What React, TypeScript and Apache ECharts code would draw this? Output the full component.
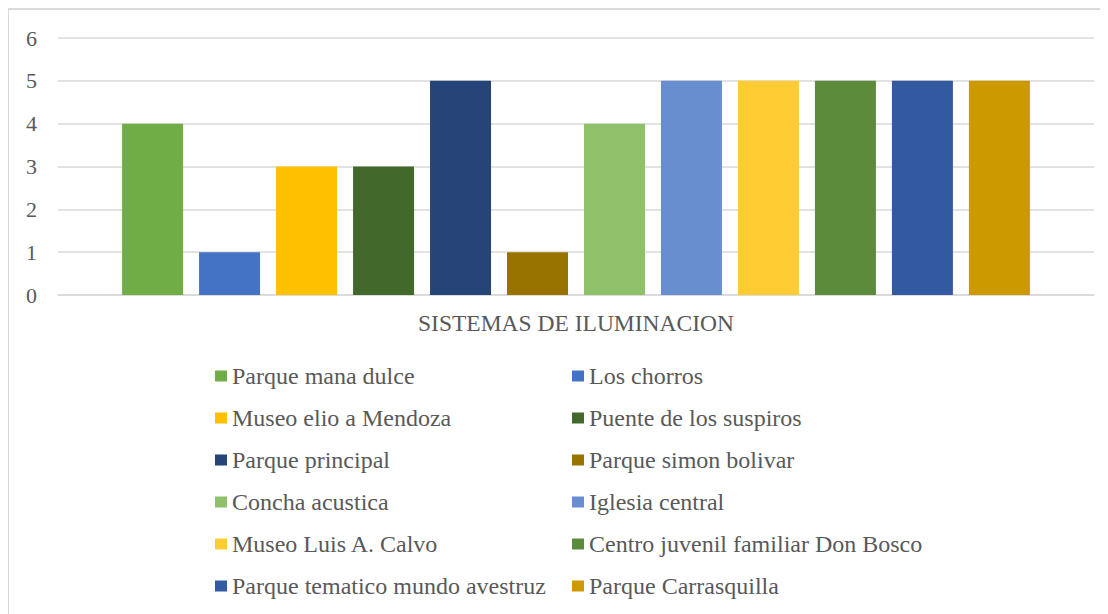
import React, { useEffect, useRef } from "react";
import * as echarts from "echarts";

const category = ["SISTEMAS DE ILUMINACION"];
const seriesNames = [
  "Parque mana dulce",
  "Los chorros",
  "Museo elio a Mendoza",
  "Puente de los suspiros",
  "Parque principal",
  "Parque simon bolivar",
  "Concha acustica",
  "Iglesia central",
  "Museo Luis A. Calvo",
  "Centro juvenil familiar Don Bosco",
  "Parque tematico mundo avestruz",
  "Parque Carrasquilla",
];
const seriesValues = [4, 1, 3, 3, 5, 1, 4, 5, 5, 5, 5, 5];
const seriesColors = [
  "#70AD47",
  "#4472C4",
  "#FFC000",
  "#43682B",
  "#264478",
  "#997300",
  "#8FC16A",
  "#698ED0",
  "#FFCD33",
  "#5B8B3B",
  "#335AA1",
  "#CC9A00",
];
const yTicks = { min: 0, max: 6, interval: 1 };

const FONT = "Liberation Serif";
const TEXT = "#595959";

export default function App() {
  const ref = useRef<HTMLDivElement>(null);
  useEffect(() => {
    if (!ref.current) return;
    const chart = echarts.init(ref.current, null, { renderer: "svg" });
    const legendTextStyle = { fontFamily: FONT, fontSize: 24, color: TEXT, lineHeight: 24 };
    chart.setOption({
      animation: false,
      graphic: [
        {
          type: "polyline",
          shape: { points: [[0, 606], [0, 1], [1100, 1]] },
          style: { stroke: "#d9d9d9", lineWidth: 2, fill: "none" },
          silent: true,
        },
      ],
      grid: { left: 50, right: 14, top: 30, height: 257 },
      legend: [
        {
          orient: "vertical",
          top: 356,
          left: 207,
          padding: 0,
          itemWidth: 12,
          itemHeight: 11,
          itemGap: 18,
          icon: "rect",
          textStyle: { ...legendTextStyle },
          data: seriesNames.filter((_, i) => i % 2 === 0),
        },
        {
          orient: "vertical",
          top: 356,
          left: 564,
          padding: 0,
          itemWidth: 12,
          itemHeight: 11,
          itemGap: 18,
          icon: "rect",
          textStyle: { ...legendTextStyle },
          data: seriesNames.filter((_, i) => i % 2 === 1),
        },
      ],
      xAxis: {
        type: "category",
        data: category,
        axisTick: { show: false },
        axisLine: { lineStyle: { color: "#d9d9d9", width: 1.5 } },
        axisLabel: { fontFamily: FONT, fontSize: 23.5, color: TEXT, margin: 16 },
      },
      yAxis: {
        type: "value",
        min: yTicks.min,
        max: yTicks.max,
        interval: yTicks.interval,
        axisLine: { show: false },
        axisTick: { show: false },
        splitLine: { lineStyle: { color: "#d9d9d9", width: 1.5 } },
        axisLabel: { fontFamily: FONT, fontSize: 22, color: TEXT, margin: 21 },
      },
      series: seriesNames.map((name, i) => ({
        name,
        type: "bar",
        data: [seriesValues[i]],
        barWidth: 61,
        barGap: "26.2%",
        itemStyle: { color: seriesColors[i] },
      })),
    });
    return () => chart.dispose();
  }, []);
  return (
    <div className="chart-root">
      <style>{".chart-root svg text { font-family: 'Liberation Serif', 'Times New Roman', serif !important; }"}</style>
      <div ref={ref} style={{ width: 1100, height: 606 }} />
    </div>
  );
}
